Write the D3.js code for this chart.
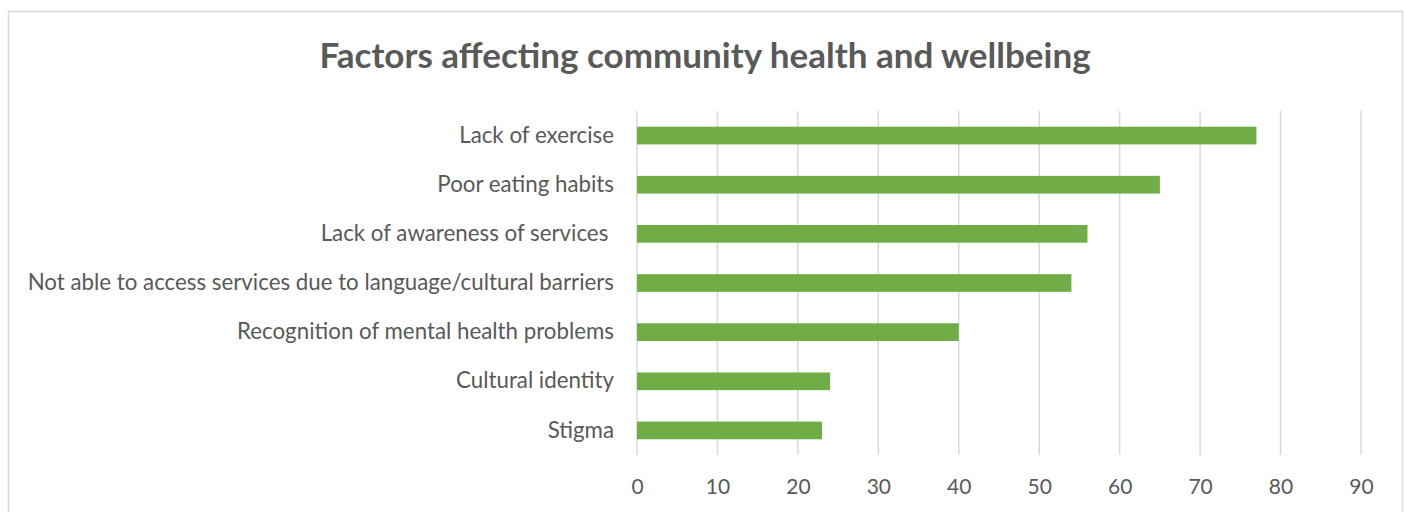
<!DOCTYPE html>
<html>
<head>
<meta charset="utf-8">
<script src="https://cdn.jsdelivr.net/npm/d3@7"></script>
<style>
  body { margin: 0; background: #fff; }
  svg { display: block; }
  text { font-family: Lato, "Open Sans", sans-serif; fill: #595959; }
</style>
</head>
<body>
<script>
// chart data
var categories = [
  "Lack of exercise",
  "Poor eating habits",
  "Lack of awareness of services ",
  "Not able to access services due to language/cultural barriers",
  "Recognition of mental health problems",
  "Cultural identity",
  "Stigma"
];
var counts = [77, 65, 56, 54, 40, 24, 23];
var xTicks = [0, 10, 20, 30, 40, 50, 60, 70, 80, 90];
var chartTitle = "Factors affecting community health and wellbeing";

var width = 1404, height = 512;
var margin = {top: 111, right: 43, bottom: 57, left: 637};
var w = width - margin.left - margin.right;
var h = height - margin.top - margin.bottom;

var svg = d3.select("body").append("svg")
    .attr("width", width)
    .attr("height", height);

// outer chart border
svg.append("rect")
    .attr("x", 8.5).attr("y", 11.5)
    .attr("width", 1394).attr("height", 520)
    .attr("fill", "none")
    .attr("stroke", "#d9d9d9")
    .attr("stroke-width", 1.5);

svg.append("text")
    .attr("x", 705)
    .attr("y", 68)
    .attr("text-anchor", "middle")
    .style("font-size", "35px")
    .style("font-weight", "bold")
    .text(chartTitle);

var x = d3.scaleLinear().domain([0, 90]).range([0, w]);
var y = d3.scaleBand().domain(categories).range([0, h]).paddingInner(0.64).paddingOuter(0.32);

var g = svg.append("g")
    .attr("transform", "translate(" + margin.left + "," + margin.top + ")");

// vertical gridlines
g.selectAll("line.grid")
    .data(xTicks)
  .enter().append("line")
    .attr("class", "grid")
    .attr("x1", function(d) { return x(d); })
    .attr("x2", function(d) { return x(d); })
    .attr("y1", 0)
    .attr("y2", h)
    .attr("stroke", "#d9d9d9")
    .attr("stroke-width", 1.5);

// bars
g.selectAll("rect.bar")
    .data(counts)
  .enter().append("rect")
    .attr("class", "bar")
    .attr("x", x(0))
    .attr("y", function(d, i) { return y(categories[i]); })
    .attr("width", function(d) { return x(d) - x(0); })
    .attr("height", y.bandwidth())
    .attr("fill", "#70ad47");

// x axis labels
var xAxis = g.append("g")
    .attr("transform", "translate(0," + h + ")")
    .call(d3.axisBottom(x).tickValues(xTicks).tickSize(0).tickPadding(24));
xAxis.select(".domain").remove();
xAxis.selectAll("text")
    .style("font-size", "21px")
    .style("font-family", "Lato, sans-serif")
    .attr("fill", "#595959");

// y axis labels
var yAxis = g.append("g")
    .call(d3.axisLeft(y).tickSize(0).tickPadding(23));
yAxis.select(".domain").remove();
yAxis.selectAll("text")
    .style("font-size", "22.3px")
    .style("font-family", "Lato, sans-serif")
    .style("white-space", "pre")
    .attr("fill", "#595959");
</script>
</body>
</html>
